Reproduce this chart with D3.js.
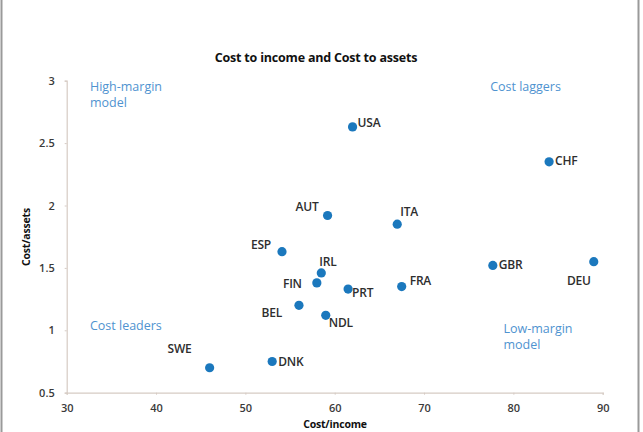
<!DOCTYPE html>
<html><head><meta charset="utf-8">
<script src="https://cdn.jsdelivr.net/npm/d3@7"></script>
<style>
html,body{margin:0;padding:0;background:#fff;}
svg{display:block;}
text{font-family:"Open Sans","Noto Sans",sans-serif;}
</style></head>
<body>
<svg id="chart" width="643" height="432"></svg>
<script>
const countries = ["USA","CHF","AUT","ITA","ESP","IRL","FIN","PRT","FRA","GBR","DEU","BEL","NDL","DNK","SWE"];
const costIncome = [62.0,84.0,59.2,67.0,54.1,58.5,58.0,61.5,67.5,77.7,89.0,56.0,59.0,53.0,46.0];
const costAssets = [2.63,2.35,1.92,1.85,1.63,1.46,1.38,1.33,1.35,1.52,1.55,1.20,1.12,0.75,0.70];
// label placement: anchor side and pixel offsets from the dot
const labelAnchor = ["start","start","end","start","end","start","end","start","start","start","end","end","start","start","end"];
const labelDx = [5,6,-9,3,-11,-2,-15,4,8,6,-3,-17,3,6,-18];
const labelDy = [-4,-1,-9,-12,-7,-11,1,4,-6,-1,19,7,7,0,-19];
const xTicks = [30,40,50,60,70,80,90];
const yTicks = [0.5,1,1.5,2,2.5,3];
const quadrantNotes = [
  {lines:["High-margin","model"], x:32.6, y:2.92},
  {lines:["Cost laggers"], x:77.4, y:2.92},
  {lines:["Cost leaders"], x:32.6, y:1.0},
  {lines:["Low-margin","model"], x:78.9, y:0.98}
];

const svg = d3.select("#chart");
// frame
svg.append("line").attr("x1",1.5).attr("x2",1.5).attr("y1",0).attr("y2",432).attr("stroke","#9a9a9a").attr("stroke-width",2);
svg.append("line").attr("x1",638.5).attr("x2",638.5).attr("y1",0).attr("y2",432).attr("stroke","#9a9a9a").attr("stroke-width",2);

const x = d3.scaleLinear().domain([30,90]).range([66.7,602.7]);
const y = d3.scaleLinear().domain([0.5,3]).range([392.7,80.7]);

const axisColor = "#d6cbc4";
const gx = svg.append("g").attr("transform","translate(0,392.7)")
  .call(d3.axisBottom(x).tickValues(xTicks).tickSize(2).tickPadding(8).tickFormat(d3.format("d")));
const gy = svg.append("g").attr("transform","translate(66.7,0)")
  .call(d3.axisLeft(y).tickValues(yTicks).tickSize(2).tickPadding(9).tickFormat(d=>String(d)));
[gx,gy].forEach(g=>{
  g.select(".domain").attr("stroke",axisColor).attr("stroke-width",1.2);
  g.selectAll(".tick line").attr("stroke",axisColor);
  g.selectAll(".tick text").attr("fill","#3a3a3a").attr("font-size",11).attr("font-weight",600)
   .style("font-family","'Open Sans',sans-serif");
});
gx.selectAll(".tick text").attr("dy","0.85em");
gy.selectAll(".tick text").attr("dx","-1");

// title
svg.append("text").attr("x",316).attr("y",62).attr("text-anchor","middle")
  .attr("font-size",12.5).attr("font-weight",700).attr("fill","#111").attr("letter-spacing","-0.2")
  .text("Cost to income and Cost to assets");

// axis titles
svg.append("text").attr("x",335).attr("y",428).attr("text-anchor","middle")
  .attr("font-size",10.5).attr("font-weight",700).attr("fill","#111").attr("letter-spacing","-0.2")
  .text("Cost/income");
svg.append("text").attr("transform","translate(30,237) rotate(-90)").attr("text-anchor","middle")
  .attr("font-size",10.5).attr("font-weight",700).attr("fill","#111").attr("letter-spacing","-0.2")
  .text("Cost/assets");

// quadrant notes
quadrantNotes.forEach(n=>{
  const t = svg.append("text").attr("x",x(n.x)).attr("y",y(n.y))
    .attr("font-size",12.5).attr("fill","#4f93d0");
  n.lines.forEach((l,i)=>t.append("tspan").attr("x",x(n.x)).attr("dy",i===0?0:16).text(l));
});

// points
const data = countries.map((c,i)=>({c,xv:costIncome[i],yv:costAssets[i],a:labelAnchor[i],dx:labelDx[i],dy:labelDy[i]}));
svg.append("g").selectAll("circle").data(data).join("circle")
  .attr("cx",d=>x(d.xv)).attr("cy",d=>y(d.yv)).attr("r",4.6).attr("fill","#1b78bd");
svg.append("g").selectAll("text").data(data).join("text")
  .attr("x",d=>x(d.xv)+d.dx).attr("y",d=>y(d.yv)+d.dy)
  .attr("dy","0.35em").attr("text-anchor",d=>d.a)
  .attr("font-size",12).attr("font-weight",600).attr("fill","#2e2e2e").attr("letter-spacing","-0.2")
  .text(d=>d.c);
</script>
</body></html>
